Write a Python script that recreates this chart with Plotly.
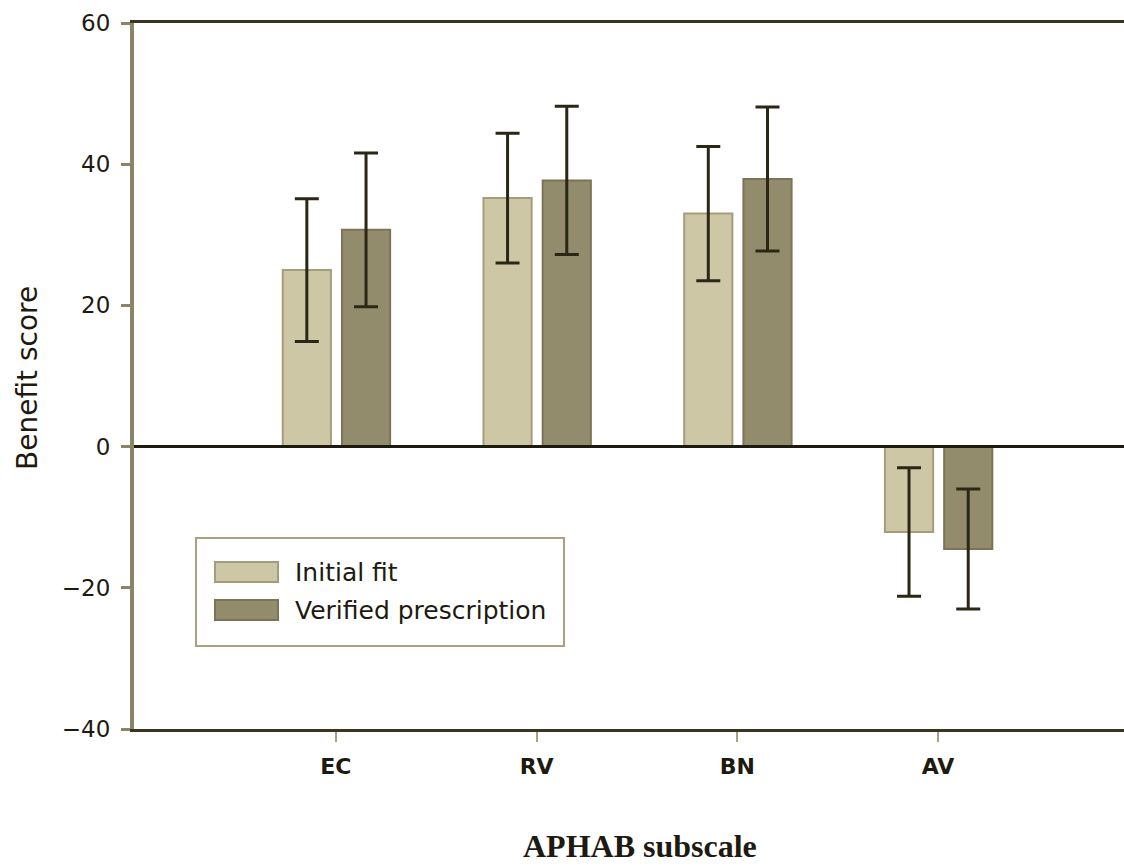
import plotly.graph_objects as go

# ---- data ----
categories = ["EC", "RV", "BN", "AV"]
initial_fit = [25.0, 35.2, 33.0, -12.1]
initial_err = [10.1, 9.2, 9.5, 9.1]
verified = [30.7, 37.7, 37.9, -14.5]
verified_err = [10.9, 10.5, 10.2, 8.5]
y_ticks = [-40, -20, 0, 20, 40, 60]
y_tick_labels = ["\u221240", "\u221220", "0", "20", "40", "60"]
series_names = ["Initial fit", "Verified prescription"]

W, H = 1124, 867
L, T, B, R = 134, 23, 138, 0
PW, PH = W - L - R, H - T - B

def px_x(p):
    return (p - L) / PW

def px_y(p):
    return (T + PH - p) / PH

c_init, c_init_line = "#CDC7A6", "#A49D7C"
c_ver, c_ver_line = "#938C6C", "#7B7458"
c_err = "#2B2716"
c_dark = "#3A3420"
c_khaki = "#8C8466"
c_text = "#1E1A10"

xpos = list(range(len(categories)))

fig = go.Figure()
fig.add_trace(go.Bar(
    x=xpos, y=initial_fit, name=series_names[0],
    width=0.24, offset=-0.265,
    marker=dict(color=c_init, line=dict(color=c_init_line, width=2)),
    error_y=dict(type="data", array=initial_err, color=c_err, thickness=3, width=12),
    showlegend=False,
))
fig.add_trace(go.Bar(
    x=xpos, y=verified, name=series_names[1],
    width=0.24, offset=0.03,
    marker=dict(color=c_ver, line=dict(color=c_ver_line, width=2)),
    error_y=dict(type="data", array=verified_err, color=c_err, thickness=3, width=12),
    showlegend=False,
))

font_main = "DejaVu Sans, Verdana, Arial, sans-serif"

fig.update_layout(
    width=W, height=H,
    margin=dict(l=L, r=R, t=T, b=B, pad=0),
    paper_bgcolor="white", plot_bgcolor="white",
    barmode="overlay",
    showlegend=False,
    xaxis=dict(
        range=[-1.006, 3.926],
        tickmode="array", tickvals=xpos,
        ticktext=["<b>%s</b>" % c for c in categories],
        tickfont=dict(family=font_main, size=22, color=c_text),
        ticks="outside", ticklen=10, tickwidth=2, tickcolor="#A8A080",
        showline=True, linecolor=c_dark, linewidth=3, mirror=True,
        showgrid=False, zeroline=False,
        ticklabelstandoff=6,
    ),
    yaxis=dict(
        range=[-40, 60],
        tickmode="array", tickvals=y_ticks,
        ticktext=y_tick_labels,
        tickfont=dict(family=font_main, size=23, color=c_text),
        ticks="outside", ticklen=9, tickwidth=3, tickcolor=c_khaki,
        showline=True, linecolor=c_khaki, linewidth=4,
        showgrid=False, zeroline=False,
        ticklabelstandoff=6,
    ),
)

# zero line drawn above bars
fig.add_shape(type="line", xref="paper", yref="y", x0=0, x1=1, y0=0, y1=0,
              line=dict(color="#1E1A0E", width=3), layer="above")

# custom legend box and swatches
fig.add_shape(type="rect", xref="paper", yref="paper",
              x0=px_x(196), x1=px_x(564), y0=px_y(646), y1=px_y(538),
              line=dict(color="#A8A282", width=2), fillcolor="white", layer="above")
fig.add_shape(type="rect", xref="paper", yref="paper",
              x0=px_x(215), x1=px_x(278), y0=px_y(582), y1=px_y(562),
              line=dict(color=c_init_line, width=2), fillcolor=c_init, layer="above")
fig.add_shape(type="rect", xref="paper", yref="paper",
              x0=px_x(215), x1=px_x(278), y0=px_y(620), y1=px_y(600),
              line=dict(color=c_ver_line, width=2), fillcolor=c_ver, layer="above")
fig.add_annotation(xref="paper", yref="paper", x=px_x(293), y=px_y(572),
                   xanchor="left", yanchor="middle", showarrow=False,
                   text=series_names[0],
                   font=dict(family=font_main, size=25, color=c_text))
fig.add_annotation(xref="paper", yref="paper", x=px_x(293), y=px_y(610),
                   xanchor="left", yanchor="middle", showarrow=False,
                   text=series_names[1],
                   font=dict(family=font_main, size=25, color=c_text))

# axis titles
fig.add_annotation(xref="paper", yref="paper", x=px_x(28), y=px_y(378),
                   xanchor="center", yanchor="middle", showarrow=False,
                   text="Benefit score", textangle=-90,
                   font=dict(family=font_main, size=28, color=c_text))
fig.add_annotation(xref="paper", yref="paper", x=px_x(640), y=px_y(846),
                   xanchor="center", yanchor="middle", showarrow=False,
                   text="<b>APHAB subscale</b>",
                   font=dict(family="Liberation Serif, Times New Roman, serif", size=32, color=c_text))

fig.write_html("out.html")
